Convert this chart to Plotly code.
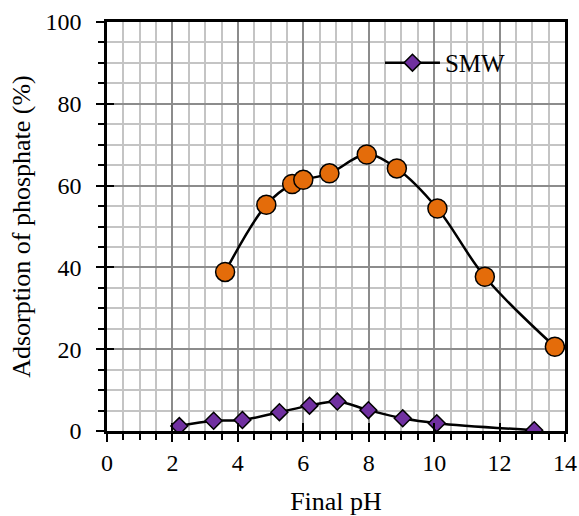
import plotly.graph_objects as go

# Orange series (no legend entry)
ph_orange = [3.61, 4.87, 5.66, 6.00, 6.80, 7.94, 8.86, 10.10, 11.55, 13.69]
ads_orange = [38.9, 55.3, 60.4, 61.4, 63.0, 67.6, 64.2, 54.4, 37.7, 20.6]

# SMW series
ph_smw = [2.21, 3.26, 4.14, 5.27, 6.19, 7.04, 7.99, 9.04, 10.08, 13.06]
ads_smw = [1.2, 2.5, 2.7, 4.6, 6.2, 7.2, 5.1, 3.1, 1.9, 0.2]

x_ticks = [0, 2, 4, 6, 8, 10, 12, 14]
y_ticks = [0, 20, 40, 60, 80, 100]

FONT = "Liberation Serif, Times New Roman, serif"

fig = go.Figure()
fig.add_trace(go.Scatter(
    x=ph_orange, y=ads_orange, mode="lines+markers", name="orange",
    showlegend=False,
    line=dict(color="black", width=2.5, shape="spline"),
    marker=dict(symbol="circle", size=19, color="#E46C0A",
                line=dict(color="black", width=1.5)),
))
fig.add_trace(go.Scatter(
    x=ph_smw, y=ads_smw, mode="lines+markers", name="SMW",
    line=dict(color="black", width=2.5, shape="spline"),
    marker=dict(symbol="diamond", size=13, color="#7030A0",
                line=dict(color="black", width=1.5)),
))
# invisible trace to activate overlay axes for inward major ticks
fig.add_trace(go.Scatter(x=[0], y=[0], xaxis="x2", yaxis="y2", mode="markers",
                         marker=dict(opacity=0), showlegend=False, hoverinfo="skip"))

fig.update_layout(
    width=579, height=516,
    margin=dict(l=107, r=14, t=22, b=85),
    paper_bgcolor="white", plot_bgcolor="white",
    font=dict(family=FONT, size=23, color="black"),
    showlegend=True,
    legend=dict(x=0.596, y=0.9, xanchor="left", yanchor="middle",
                bgcolor="rgba(0,0,0,0)", font=dict(family=FONT, size=25),
                itemwidth=55),
    xaxis=dict(
        range=[0, 14], tickvals=x_ticks, ticktext=[str(v) for v in x_ticks],
        showline=True, linecolor="black", linewidth=2.5, mirror=True,
        ticks="outside", ticklen=8, tickwidth=2, tickcolor="black",
        showgrid=True, gridcolor="#8c8c8c", gridwidth=1.5,
        minor=dict(dtick=0.5, showgrid=True, gridcolor="#c4c4c4", gridwidth=1.5,
                   ticks="outside", ticklen=6, tickwidth=2, tickcolor="black"),
        zeroline=False, automargin=False,
        title=dict(text="Final pH", font=dict(family=FONT, size=26), standoff=22),
        tickfont=dict(family=FONT, size=24),
    ),
    yaxis=dict(
        range=[0, 100], tickvals=y_ticks, ticktext=[str(v) for v in y_ticks],
        showline=True, linecolor="black", linewidth=2.5, mirror=True,
        ticks="outside", ticklen=8, tickwidth=2, tickcolor="black",
        ticklabelstandoff=10,
        showgrid=True, gridcolor="#8c8c8c", gridwidth=1.5,
        minor=dict(dtick=5, showgrid=True, gridcolor="#c4c4c4", gridwidth=1.5,
                   ticks="outside", ticklen=6, tickwidth=2, tickcolor="black"),
        zeroline=False, automargin=False,
        title=dict(text="Adsorption of phosphate (%)", font=dict(family=FONT, size=26), standoff=8),
        tickfont=dict(family=FONT, size=24),
    ),
    xaxis2=dict(range=[0, 14], overlaying="x", tickvals=x_ticks, showticklabels=False,
                ticks="inside", ticklen=8, tickwidth=2, tickcolor="black",
                showgrid=False, zeroline=False, showline=False, side="bottom"),
    yaxis2=dict(range=[0, 100], overlaying="y", tickvals=y_ticks, showticklabels=False,
                ticks="inside", ticklen=7, tickwidth=2, tickcolor="black",
                showgrid=False, zeroline=False, showline=False, side="left"),
)

fig.write_html("out.html", config={"displayModeBar": False},
               post_script="document.body.style.margin='0';document.body.style.overflow='hidden';")
